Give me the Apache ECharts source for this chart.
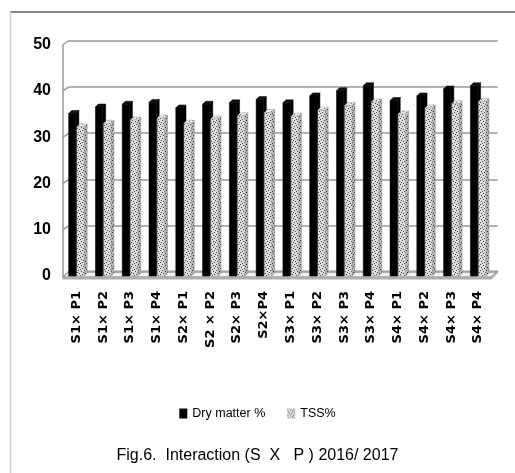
<!DOCTYPE html>
<html>
<head>
<meta charset="utf-8">
<script src="https://cdn.jsdelivr.net/npm/echarts@6/dist/echarts.min.js"></script>
<style>
html,body{margin:0;padding:0;background:#fff;}
#c{width:515px;height:473px;}
</style>
</head>
<body>
<div id="c"></div>
<script>
// ---- data ----
const categories = ['S1× P1','S1× P2','S1× P3','S1× P4','S2× P1','S2 × P2','S2× P3','S2×P4',
                    'S3× P1','S3× P2','S3× P3','S3× P4','S4× P1','S4× P2','S4× P3','S4× P4'];
const dryMatter = [35.1, 36.5, 37.1, 37.5, 36.3, 37.1, 37.4, 38.1, 37.4, 38.9, 40.0, 41.1, 37.9, 38.9, 40.4, 41.1];
const tss       = [32.2, 33.0, 33.7, 34.1, 33.0, 33.9, 34.6, 35.3, 34.5, 35.8, 36.8, 37.6, 35.0, 36.3, 37.2, 37.7];
const yTicks = [0, 10, 20, 30, 40, 50];
const seriesNames = ['Dry matter %', 'TSS%'];
const titleText = 'Fig.6.  Interaction (S  X   P ) 2016/ 2017';

// ---- layout constants ----
const FRONT = {left: 63, right: 23.5, top: 44.5, bottom: 197};
const DEPTH_X = 6, DEPTH_Y = 4;
const W = 515, H = 473;
const narrow = "'Liberation Sans Narrow','Arial Narrow','Liberation Sans',sans-serif";

// stipple pattern
function makePattern(base, dot, n) {
  const cv = document.createElement('canvas');
  cv.width = 6; cv.height = 6;
  const g = cv.getContext('2d');
  g.fillStyle = base; g.fillRect(0, 0, 6, 6);
  g.fillStyle = dot;
  const pts = [[0,0],[3,1],[1,3],[4,4],[2,5],[5,2]];
  for (let i = 0; i < n; i++) g.fillRect(pts[i][0], pts[i][1], 1, 1);
  return {image: cv, repeat: 'repeat'};
}
const tssFront = makePattern('#dedede', '#444', 6);
const tssSide  = makePattern('#b5b5b5', '#333', 6);
const tssTop   = makePattern('#ececec', '#777', 4);

function render3d(which) {
  return function (params, api) {
    const xi = api.value(0), v = api.value(1);
    const top = api.coord([xi, v]);
    const base = api.coord([xi, 0]);
    const band = api.size([1, 0])[0];
    const w = band * 0.27;
    const d = 3;
    const x = which === 0 ? top[0] - 0.5 - w : top[0] + 0.5;
    const yT = top[1], yB = base[1];
    const front = which === 0 ? '#000' : tssFront;
    const side = which === 0 ? '#000' : tssSide;
    const topc = which === 0 ? '#111' : tssTop;
    return {
      type: 'group',
      children: [
        {type: 'polygon', shape: {points: [[x + w, yT], [x + w + d, yT - d], [x + w + d, yB - d], [x + w, yB]]},
         style: {fill: side, stroke: which === 0 ? '#000' : '#888', lineWidth: 0.5}},
        {type: 'polygon', shape: {points: [[x, yT], [x + d, yT - d], [x + w + d, yT - d], [x + w, yT]]},
         style: {fill: topc, stroke: which === 0 ? '#000' : '#999', lineWidth: 0.5}},
        {type: 'rect', shape: {x: x, y: yT, width: w, height: yB - yT},
         style: {fill: front, stroke: which === 0 ? '#000' : '#aaa', lineWidth: 0.5}}
      ]
    };
  };
}

const chart = echarts.init(document.getElementById('c'), null, {renderer: 'canvas'});

// decorative geometry (frame, floor, side wall)
const fx0 = FRONT.left, fx1 = W - FRONT.right;
const fy0 = H - FRONT.bottom, fyTop = FRONT.top;
const perUnit = (fy0 - fyTop) / 50;
const graphics = [];
graphics.push({type: 'line', shape: {x1: 10, y1: 12, x2: W, y2: 12}, style: {stroke: '#888', lineWidth: 2}});
graphics.push({type: 'line', shape: {x1: 10.5, y1: 12, x2: 10.5, y2: H}, style: {stroke: '#d0d0d0', lineWidth: 1.5}});
graphics.push({type: 'polygon', shape: {points: [[fx0, fy0 + 1], [fx1, fy0 + 1], [fx1 + DEPTH_X, fy0 + 1 - DEPTH_Y - 2], [fx0 + DEPTH_X, fy0 + 1 - DEPTH_Y - 2]]},
  style: {fill: '#f2f2f2', stroke: '#999', lineWidth: 1.2}});
graphics.push({type: 'polygon', shape: {points: [[fx0, fy0 + 1], [fx1, fy0 + 1], [fx1, fy0 + 3], [fx0, fy0 + 3]]},
  style: {fill: '#bbb', stroke: '#999', lineWidth: 0.8}});
graphics.push({type: 'polygon', shape: {points: [[fx1, fy0 + 1], [fx1 + DEPTH_X, fy0 + 1 - DEPTH_Y - 2], [fx1 + DEPTH_X, fy0 + 3 - DEPTH_Y - 2], [fx1, fy0 + 3]]},
  style: {fill: '#ccc', stroke: '#999', lineWidth: 0.8}});
yTicks.forEach(function (t) {
  if (t === 0) return;
  const y = fy0 - t * perUnit;
  graphics.push({type: 'line', shape: {x1: fx0, y1: y, x2: fx0 + DEPTH_X, y2: y - DEPTH_Y},
    style: {stroke: '#999', lineWidth: 1.5}});
});
graphics.push({type: 'line', shape: {x1: fx0, y1: fyTop, x2: fx0, y2: fy0 + 1}, style: {stroke: '#999', lineWidth: 1.5}});

chart.setOption({
  animation: false,
  backgroundColor: '#fff',
  title: {
    text: titleText, left: 'center', top: 443,
    textStyle: {fontFamily: narrow, fontSize: 16, fontWeight: 'normal', color: '#000'}
  },
  legend: {
    top: 402, left: 'center', itemWidth: 8, itemHeight: 10, itemGap: 22,
    textStyle: {fontFamily: narrow, fontSize: 12.5, color: '#000'},
    data: [
      {name: seriesNames[0], icon: 'rect', itemStyle: {color: '#000'}},
      {name: seriesNames[1], icon: 'rect', itemStyle: {color: tssFront}}
    ]
  },
  grid: [
    {left: FRONT.left, right: FRONT.right, top: FRONT.top, bottom: FRONT.bottom},
    {left: FRONT.left + DEPTH_X, right: FRONT.right - DEPTH_X, top: FRONT.top - DEPTH_Y, bottom: FRONT.bottom + DEPTH_Y}
  ],
  xAxis: [
    {type: 'category', data: categories, gridIndex: 0,
     axisLine: {show: false}, axisTick: {show: false},
     axisLabel: {rotate: 90, margin: 15, interval: 0, fontFamily: 'DejaVu Sans', fontWeight: 'bold', fontSize: 13, color: '#000'}},
    {type: 'value', gridIndex: 1, min: 0, max: 1, show: false}
  ],
  yAxis: [
    {type: 'value', gridIndex: 0, min: 0, max: 50, interval: 10,
     axisLine: {show: false}, axisTick: {show: false}, splitLine: {show: false},
     axisLabel: {margin: 12, padding: [8, 0, 0, 0], fontFamily: narrow, fontWeight: 'bold', fontSize: 16, color: '#000'}},
    {type: 'value', gridIndex: 1, min: 0, max: 50, interval: 10,
     axisLine: {show: false}, axisTick: {show: false}, axisLabel: {show: false},
     splitLine: {show: true, lineStyle: {color: '#999', width: 1.5}}}
  ],
  graphic: graphics,
  series: [
    {name: seriesNames[0], type: 'custom', xAxisIndex: 0, yAxisIndex: 0,
     itemStyle: {color: '#000'}, renderItem: render3d(0),
     data: dryMatter.map(function (v, i) { return [i, v]; })},
    {name: seriesNames[1], type: 'custom', xAxisIndex: 0, yAxisIndex: 0,
     itemStyle: {color: tssFront}, renderItem: render3d(1),
     data: tss.map(function (v, i) { return [i, v]; })}
  ]
});
</script>
</body>
</html>
